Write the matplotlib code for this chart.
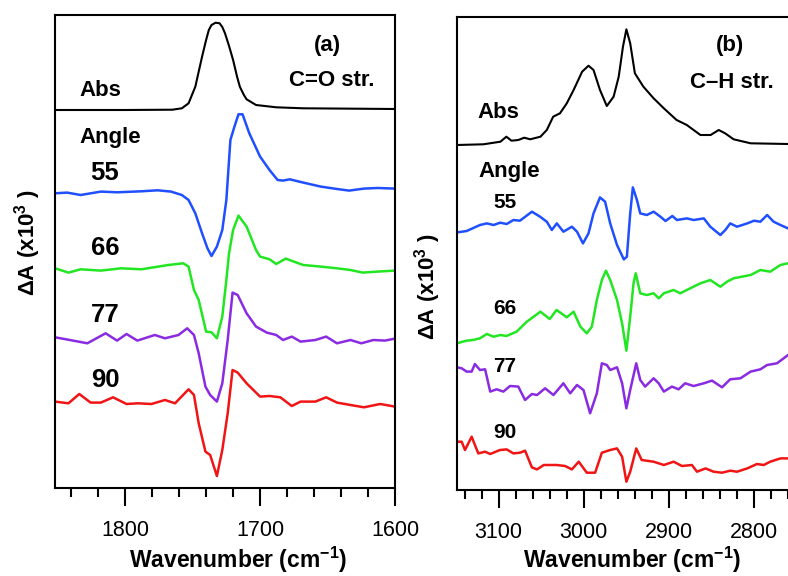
import matplotlib
matplotlib.use("Agg")
import matplotlib.pyplot as plt

plt.rcParams['font.family'] = ['Liberation Sans', 'DejaVu Sans']
plt.rcParams['mathtext.default'] = 'regular'

# ---- panel (a): C=O stretch ----
wn_a_abs = [1852, 1800, 1765, 1758, 1753, 1748, 1743, 1740, 1738, 1736, 1733, 1730, 1728, 1726,
            1723, 1720, 1717, 1715, 1712, 1710, 1703, 1688, 1668, 1600]
abs_a = [0, 0, 0.3, 1.7, 6.7, 23.3, 53.3, 70, 80, 85, 87.3, 86.7, 83, 76.7,
         64, 50, 33, 23.3, 15, 10.7, 5, 2.7, 1.7, 1]

wn_a_55 = [1852, 1843, 1833, 1818, 1806, 1788, 1776, 1766, 1758, 1753, 1748, 1743, 1739, 1736,
           1732, 1728, 1725, 1722, 1719, 1716, 1713, 1708, 1700, 1693, 1687, 1683, 1678, 1668,
           1655, 1643, 1634, 1623, 1613, 1600]
d_a_55 = [0, 0.7, -1.7, 1.7, 1, 2, 3, 1.7, -1.7, -6.7, -20, -40, -55, -62.7,
          -53.3, -36.7, -6.7, 53.3, 66.7, 79, 79, 60, 36.7, 23.3, 13.3, 12.7, 14, 10.7,
          6.7, 4.3, 2.7, 4.7, 5.3, 4.7]

wn_a_66 = [1852, 1842, 1833, 1818, 1803, 1788, 1768, 1757, 1753, 1749, 1745.5, 1740, 1736, 1732,
           1728, 1725, 1723, 1720, 1716, 1710, 1703, 1700, 1693, 1688, 1681, 1675, 1668, 1655,
           1643, 1633, 1624, 1613, 1600]
d_a_66 = [1, -3.3, 0, -1.3, 1, 0, 4.3, 6, 2.7, -20.7, -30.7, -62.3, -63, -69,
          -47.3, -10.7, 16, 39.3, 53.7, 42.7, 19.3, 12.7, 10, 5.3, 10.7, 7.7, 4.3, 2.7,
          1, -0.7, -3.3, -2.3, -1.3]

wn_a_77 = [1852, 1841, 1828, 1814.5, 1806, 1799, 1791, 1778, 1770.5, 1760.5, 1754, 1749, 1745.5,
           1740.5, 1737, 1732, 1728, 1724, 1720.4, 1716.6, 1710, 1703, 1695, 1688, 1683, 1676.5,
           1670, 1659, 1651, 1643, 1633, 1625, 1616, 1607.5, 1600]
d_a_77 = [2, -0.7, -4, 6, -1.3, 5.3, -1.3, 4.3, 1, 4.3, 11, 4.3, -14,
          -47.3, -55.7, -62.3, -44, -0.7, 46.7, 44.3, 26, 12.7, 6.7, 4.3, -0.7, 2.7,
          -2.3, -0.7, 2.7, -4, -0.7, -4, -0.7, -1.3, 0.7]

wn_a_90 = [1852, 1842, 1834, 1825.6, 1818, 1809, 1799, 1790.5, 1780.5, 1770.5, 1763, 1753, 1749,
           1745.5, 1740.5, 1737, 1732, 1728, 1724, 1720.4, 1716.6, 1710, 1700, 1693, 1685, 1676.5,
           1670, 1659, 1651, 1643, 1633, 1623, 1611, 1600]
d_a_90 = [1.7, 0, 9.3, 0.7, 0.7, 6, -0.7, 0, -0.7, 3.3, 0, 14, 8.3,
          -20, -48.3, -51.7, -72.7, -46.7, -10, 33.3, 30.7, 20, 6.7, 7.3, 6, -2.7,
          1.7, 1.7, 6, 0.7, -1.7, -4, -0.7, -3.3]

# ---- panel (b): C-H stretch ----
wn_b_abs = [3149, 3118, 3098, 3091, 3085, 3077, 3070, 3063, 3051, 3043.5, 3036, 3028, 3020, 3012,
            3002, 2994.5, 2988.6, 2981, 2973, 2965, 2959, 2954, 2950, 2945.5, 2940, 2930, 2918,
            2906, 2891, 2879, 2871, 2863, 2851, 2841.5, 2834, 2824, 2804, 2760]
abs_b = [0, 0.7, 3.3, 8.3, 4.3, 5, 7.3, 5.7, 8.3, 15, 28.3, 31.7, 41.7, 55,
         73.3, 79.3, 75, 55, 39, 48.3, 68.3, 98.3, 115.7, 101.7, 71.7, 58.3, 46.7,
         36.7, 25, 20, 15, 10, 10, 15, 11.7, 5.7, 1.7, 1]

wn_b_55 = [3149, 3137.6, 3122, 3114, 3106, 3098.4, 3090.6, 3082.7, 3075, 3061, 3051.4, 3043.5,
           3037.6, 3031.7, 3024, 3014, 3008, 3001, 2994.5, 2988.6, 2981, 2975, 2969, 2961, 2953,
           2949.4, 2945.5, 2942.4, 2937.6, 2933.7, 2926, 2918, 2910, 2904, 2896, 2890.6, 2879,
           2871, 2859, 2851.4, 2839.6, 2833.7, 2828, 2820, 2808, 2800, 2792.5, 2784.6, 2777,
           2769, 2760]
d_b_55 = [-0.7, 0.7, 6.7, 8.3, 6.7, 9, 7.7, 11.7, 11, 20, 15, 10,
          1.7, 8.3, 0, 5, 0, -11.7, -1.7, 18.3, 34.3, 30, 8.3, -13.3, -27.7,
          -25, 18.3, 44.3, 31.7, 18.3, 16.7, 20, 15, 10.7, 15.7, 11.7, 13.3,
          11.7, 13.3, 5, -3.3, 1.7, 8.3, 5, 8.3, 11, 10, 16.7, 10,
          6.7, 3.3]

wn_b_66 = [3149, 3138, 3130, 3122, 3114, 3106, 3098, 3091, 3079, 3067, 3059, 3051, 3040, 3032,
           3020, 3012, 3004, 2996.5, 2990.6, 2984.7, 2978.8, 2974, 2969, 2961, 2955, 2950, 2945.5,
           2941.6, 2939, 2933.7, 2926, 2918, 2912, 2906, 2894.5, 2886.7, 2875, 2863, 2851.4,
           2839.6, 2831.8, 2824, 2804, 2792.5, 2781, 2769, 2760]
d_b_66 = [0, 2.6, 3.3, 5, 9.3, 6.6, 8.3, 7.3, 11.6, 21.6, 26.6, 31.6, 24.3, 33.3,
          26, 31.6, 16.6, 10, 16.6, 43.3, 63.3, 72.6, 63.3, 43.3, 20, -7.4, 26.6,
          60, 70, 50, 48.3, 50, 45, 50, 53.3, 50, 55, 60, 63.3,
          56.6, 61.6, 65, 68.3, 73.3, 71.6, 78.3, 80]

wn_b_77 = [3149, 3143.5, 3137.7, 3131.8, 3128, 3122, 3116, 3110, 3102.4, 3094.5, 3086.7, 3077,
           3069, 3061, 3055, 3045.5, 3035.7, 3024, 3016, 3008, 3000.4, 2992.6, 2984.7, 2978.8,
           2973, 2969, 2961, 2955, 2950, 2945.5, 2938.4, 2933.7, 2928, 2918, 2912, 2906,
           2896.5, 2888.6, 2881, 2871, 2859, 2849.4, 2837.6, 2828, 2816, 2804, 2792.5, 2784.7,
           2773, 2760]
d_b_77 = [0, -1, -4.3, -4.3, 3.3, -2.7, -2, -24.3, -22, -24.3, -18.7, -19.3,
          -32.7, -26.7, -27.7, -21, -27.7, -16, -26, -17.7, -22.7, -46, -26, 4,
          2.3, -2.7, 0, -16, -41, -22.7, 4, -12.7, -19.3, -11, -16, -24.3,
          -19.3, -22, -16, -18.7, -16, -13.3, -20, -12, -11, -4.3, -2, 2.3,
          4, 12.3]

wn_b_90 = [3149, 3143.5, 3139.6, 3131.8, 3124, 3116, 3110, 3098.5, 3090.6, 3082.8, 3075, 3069,
           3061, 3055, 3047, 3032, 3022, 3014, 3006, 2996.5, 2986.7, 2978.8, 2969, 2961, 2955,
           2950, 2945.5, 2938.4, 2932, 2918, 2906, 2894.5, 2884.7, 2873, 2867, 2857, 2847.5,
           2837.6, 2828, 2820, 2808, 2796.5, 2788.6, 2781, 2769, 2760]
d_b_90 = [0, 0, -8.3, 5, -11.7, -10, -12.3, -8.3, -7.7, -11.7, -11, -9,
          -25.7, -27.7, -23.3, -23.3, -24.3, -27.7, -20, -31, -31, -11, -8.3, -6.7, -15,
          -40, -30, -6.7, -18.3, -20, -23.3, -20, -24.3, -23.3, -30, -26.7, -30,
          -31, -29, -30, -26.7, -22.3, -23.3, -20, -16.7, -16.7]

angles = ['55', '66', '77', '90']
colors = ['#1f4fff', '#22e622', '#8a2be2', '#f01414']

W, H = 788, 576
fig = plt.figure(figsize=(W / 100, H / 100), dpi=100)


def px_rect(x0, y0, x1, y1):
    return [x0 / W, 1 - y1 / H, (x1 - x0) / W, (y1 - y0) / H]


def ftext(x, y, s, **kw):
    fig.text(x / W, 1 - y / H, s, ha='center', va='center', fontweight='bold', **kw)


def style_axis(ax, xlim, major, minor):
    ax.set_xlim(*xlim)
    ax.set_ylim(0, 473)
    ax.set_yticks([])
    ax.set_xticks(major)
    ax.set_xticks(minor, minor=True)
    ax.tick_params(axis='x', which='major', direction='out', length=13, width=1.5,
                   labelsize=15.5, pad=10)
    ax.tick_params(axis='x', which='minor', direction='out', length=6.5, width=1.5)
    for sp in ax.spines.values():
        sp.set_linewidth(1.5)


# panel (a)
ax1 = fig.add_axes(px_rect(55, 15, 395, 488))
ax1.plot(wn_a_abs, [v + 378 for v in abs_a], color='black', lw=1.5)
traces_a = [(wn_a_55, d_a_55, 294.7), (wn_a_66, d_a_66, 218.7),
            (wn_a_77, d_a_77, 148.7), (wn_a_90, d_a_90, 84.7)]
for (wn, d, off), c in zip(traces_a, colors):
    ax1.plot(wn, [v + off for v in d], color=c, lw=1.8)
style_axis(ax1, (1852, 1600), [1800, 1700, 1600], list(range(1840, 1599, -20)))

# panel (b)
ax2 = fig.add_axes(px_rect(457, 17, 800, 490))
ax2.plot(wn_b_abs, [v + 345 for v in abs_b], color='black', lw=1.5)
traces_b = [(wn_b_55, d_b_55, 258.3), (wn_b_66, d_b_66, 146.7),
            (wn_b_77, d_b_77, 122.7), (wn_b_90, d_b_90, 48.3)]
for (wn, d, off), c in zip(traces_b, colors):
    ax2.plot(wn, [v + off for v in d], color=c, lw=1.8)
style_axis(ax2, (3149, 2746), [3100, 3000, 2900, 2800], list(range(3140, 2745, -20)))

# labels, panel (a)
ftext(327, 45, '(a)', fontsize=16)
ftext(332, 80, 'C=O str.', fontsize=16)
ftext(100, 90, 'Abs', fontsize=16)
ftext(110, 138, 'Angle', fontsize=16)
for lab, y in zip(angles, [173, 248, 315, 380]):
    ftext(105, y, lab, fontsize=18.5)

# labels, panel (b)
ftext(730, 45, '(b)', fontsize=16)
ftext(732, 82, 'C\u2013H str.', fontsize=16)
ftext(498, 113, 'Abs', fontsize=16)
ftext(509, 172, 'Angle', fontsize=16)
for lab, y in zip(angles, [202, 308, 367, 432]):
    ftext(505, y, lab, fontsize=15)

# axis titles
ylab = '\u0394A (x10$^3$ )'
ftext(28, 243, ylab, fontsize=16, rotation=90)
ftext(428, 287, ylab, fontsize=16, rotation=90)
xlab = 'Wavenumber (cm$^{-1}$)'
ftext(238, 560, xlab, fontsize=16.5)
ftext(632, 560, xlab, fontsize=16.5)

fig.savefig('out.png', dpi=100)
